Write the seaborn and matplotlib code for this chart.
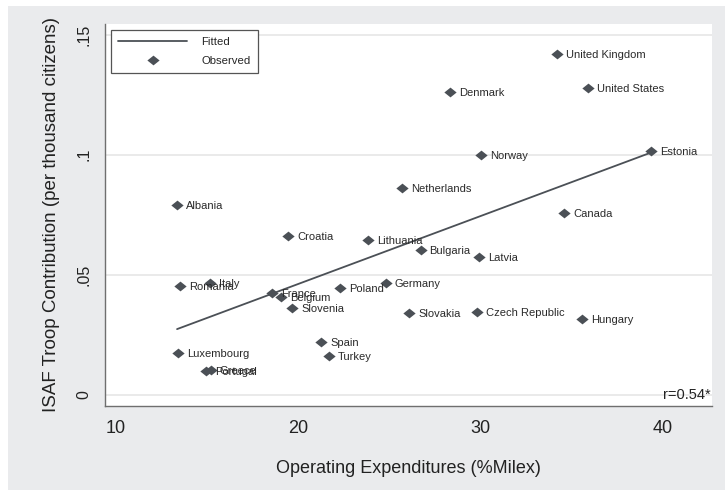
#grafico de dispersion: gasto operativo vs contribucion de tropas a ISAF
import numpy as np
import pandas as pd
import matplotlib
matplotlib.use('Agg')
import matplotlib.pyplot as plt
import seaborn as sns
from matplotlib.lines import Line2D
from matplotlib.patches import Rectangle

#datos
countries = ['United Kingdom', 'United States', 'Denmark', 'Norway', 'Estonia',
             'Netherlands', 'Albania', 'Croatia', 'Lithuania', 'Romania', 'Italy',
             'France', 'Belgium', 'Poland', 'Germany', 'Slovenia', 'Spain', 'Turkey',
             'Luxembourg', 'Greece', 'Portugal', 'Canada', 'Bulgaria', 'Latvia',
             'Slovakia', 'Czech Republic', 'Hungary']
opex = [34.19, 35.89, 28.33, 30.02, 39.36,
        25.71, 13.35, 19.44, 23.85, 13.51, 15.16,
        18.56, 19.06, 22.29, 24.82, 19.68, 21.27, 21.69,
        13.40, 15.20, 14.94, 34.59, 26.72, 29.94,
        26.10, 29.80, 35.58]
isaf = [0.1418, 0.1276, 0.1259, 0.0998, 0.1016,
        0.0860, 0.0791, 0.0662, 0.0644, 0.0452, 0.0463,
        0.0422, 0.0408, 0.0443, 0.0463, 0.0359, 0.0220, 0.0160,
        0.0172, 0.0102, 0.0098, 0.0758, 0.0602, 0.0574,
        0.0338, 0.0345, 0.0313]
xticks = [10, 20, 30, 40]
yticks = [0, 0.05, 0.1, 0.15]
ytick_labels = ['0', '.05', '.1', '.15']

df = pd.DataFrame({'pais': countries, 'opex': opex, 'isaf': isaf})

sns.set_style('white')
plt.rcParams['font.family'] = ['Liberation Sans', 'DejaVu Sans']

gris = '#4b5056'
diamante = [(-1, 0), (0, 0.8), (1, 0), (0, -0.8), (-1, 0)]

fig = plt.figure(figsize=(7.25, 4.9), dpi=100)
#fondo gris estilo stata (detras de los ejes)
fig.patches.append(Rectangle((8 / 725, 0), 1, 484 / 490, transform=fig.transFigure,
                             facecolor='#eaebed', edgecolor='none', zorder=-10))
ax = fig.add_axes([105 / 725, 84 / 490, 607 / 725, 382 / 490])
ax.set_facecolor('white')

#linea ajustada (MCO) y puntos observados
sns.regplot(data=df, x='opex', y='isaf', scatter=False, ci=None, ax=ax,
            line_kws={'color': gris, 'lw': 1.3, 'zorder': 2})
sns.scatterplot(data=df, x='opex', y='isaf', marker=diamante, s=78, color=gris,
                linewidth=0, ax=ax, zorder=3)

#etiquetas de los paises a la derecha del punto
for x, y, t in zip(opex, isaf, countries):
    ax.annotate(t, (x, y), xytext=(6.4, -0.8), textcoords='offset points',
                fontsize=8, va='center', ha='left', color='#2a2a2a', zorder=4)

ax.set_xlim(9.396, 42.706)
ax.set_ylim(-0.00479, 0.15438)
ax.set_xticks(xticks)
ax.set_yticks(yticks)
ax.set_yticklabels(ytick_labels)
ax.yaxis.grid(True, color='#e4e4e4', lw=1.1)
ax.xaxis.grid(False)
ax.set_axisbelow(True)

for s in ['top', 'right']:
    ax.spines[s].set_visible(False)
for s in ['left', 'bottom']:
    ax.spines[s].set_color('#6f6f6f')
    ax.spines[s].set_linewidth(1)

ax.tick_params(axis='both', direction='out', length=5.3, width=0.9, color='#6f6f6f',
               labelcolor='#222222')
ax.tick_params(axis='x', labelsize=13, pad=5)
ax.tick_params(axis='y', labelsize=11.5, pad=4.5, labelrotation=90)
for lab in ax.get_yticklabels():
    lab.set_va('center')

ax.set_xlabel('Operating Expenditures (%Milex)', fontsize=13, color='#222222')
ax.set_ylabel('ISAF Troop Contribution (per thousand citizens)', fontsize=13.5,
              color='#222222')
ax.xaxis.set_label_coords(0.5, -0.1404)
ax.yaxis.set_label_coords(-0.0741, 0.5)

ax.text(0.998, 7 / 382, 'r=0.54*', transform=ax.transAxes, ha='right',
        va='baseline', fontsize=10.5, color='#222222')

handles = [Line2D([], [], color=gris, lw=1.3),
           Line2D([], [], marker=diamante, ls='none', color=gris, ms=8.8, mew=0)]
leg = ax.legend(handles, ['Fitted', 'Observed'], loc='upper left',
                bbox_to_anchor=(6 / 607, 376 / 382), borderaxespad=0, fontsize=8.2,
                handlelength=6.0, handletextpad=1.3, labelspacing=0.75, borderpad=0.65,
                frameon=True, fancybox=False, edgecolor='#555555', facecolor='white',
                framealpha=1)
leg.get_frame().set_linewidth(0.9)

plt.savefig('out.png', dpi=100)
